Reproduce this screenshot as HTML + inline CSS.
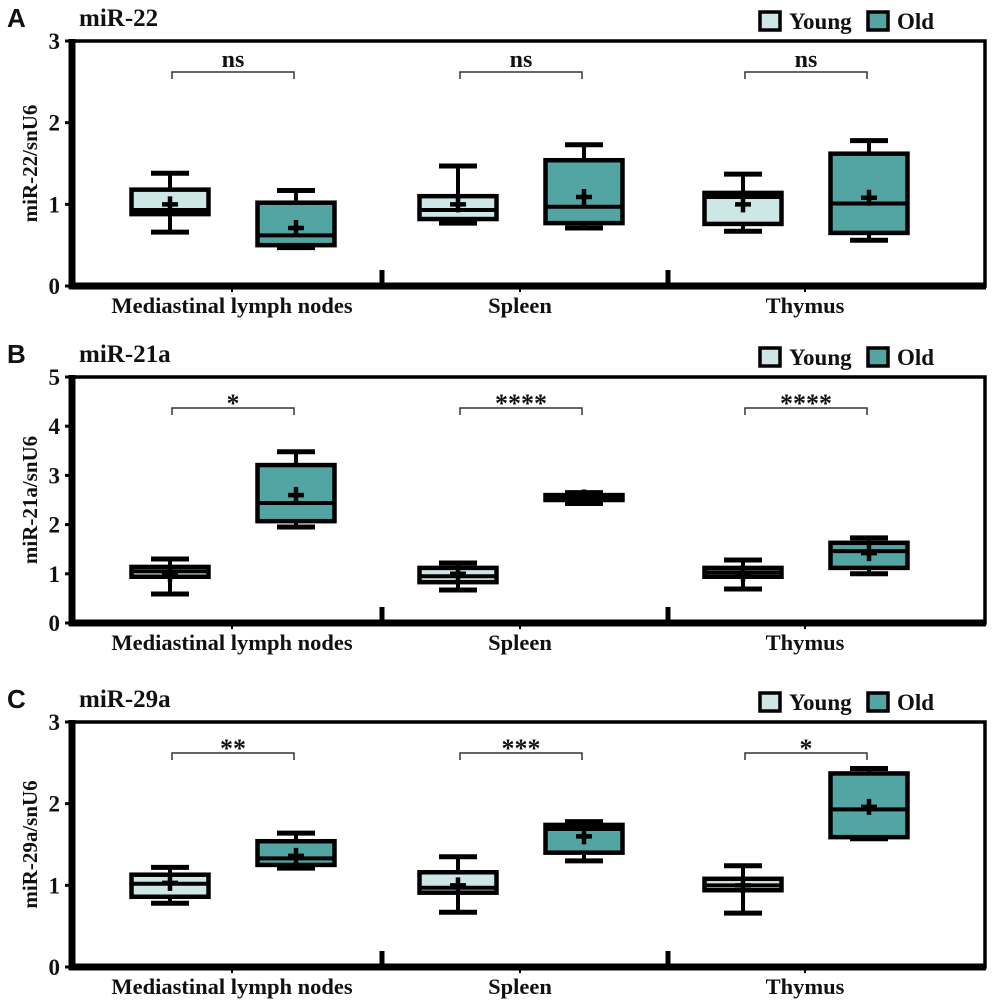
<!DOCTYPE html>
<html><head><meta charset="utf-8"><style>
body{margin:0;background:#fff}
svg{display:block}
text{font-family:"Liberation Serif",serif;font-weight:bold;fill:#111}
</style></head><body>
<svg id="chart" width="992" height="1007" viewBox="0 0 992 1007" xmlns="http://www.w3.org/2000/svg"></svg>
<script>
const categories = ["Mediastinal lymph nodes","Spleen","Thymus"];
const groups = ["Young","Old"];
const panelLetters = ["A","B","C"];
const panelTitles = ["miR-22","miR-21a","miR-29a"];
const yTitles = ["miR-22/snU6","miR-21a/snU6","miR-29a/snU6"];
const yMaxes = [3,5,3];
const signif = [["ns","ns","ns"],["*","****","****"],["**","***","*"]];
// [min,q1,median,q3,max,mean] per category, young then old
const statsA = [[[0.66,0.88,0.93,1.18,1.38,1.0],[0.47,0.5,0.62,1.02,1.17,0.71]],
                [[0.77,0.82,0.93,1.1,1.47,1.0],[0.71,0.77,0.97,1.54,1.73,1.09]],
                [[0.67,0.76,1.09,1.14,1.37,1.0],[0.56,0.65,1.01,1.62,1.78,1.08]]];
const statsB = [[[0.59,0.94,1.05,1.14,1.30,1.0],[1.95,2.07,2.44,3.21,3.48,2.6]],
                [[0.67,0.83,0.95,1.12,1.22,1.0],[2.43,2.5,2.55,2.6,2.65,2.55]],
                [[0.69,0.94,1.03,1.12,1.28,1.0],[1.0,1.12,1.46,1.63,1.73,1.42]]];
const statsC = [[[0.78,0.86,1.02,1.13,1.22,1.03],[1.21,1.25,1.33,1.54,1.64,1.36]],
                [[0.67,0.91,0.97,1.16,1.35,1.0],[1.30,1.40,1.69,1.74,1.78,1.6]],
                [[0.66,0.94,1.0,1.08,1.24,1.0],[1.57,1.59,1.93,2.37,2.43,1.96]]];
const allStats = [statsA,statsB,statsC];

const svg = document.getElementById('chart');
const NS = "http://www.w3.org/2000/svg";
function mk(tag, attrs, parent, txt){
  const e = document.createElementNS(NS, tag);
  for (const k in attrs) e.setAttribute(k, attrs[k]);
  if (txt !== undefined) e.textContent = txt;
  (parent||svg).appendChild(e); return e;
}
const layout = [{top:41,bot:286},{top:377,bot:623},{top:722,bot:967}];
const L = 72, R = 985;
const fills = ["#cde7e7","#52a5a2"];
const catX = [232,520,805];
const sepX = [382,668];
function xCat(ci){ return catX[ci]; }
function xC(ci, gi){ return xCat(ci) + (gi===0 ? -62 : 64); }

for (let p=0;p<3;p++){
  const {top,bot} = layout[p];
  const ymax = yMaxes[p];
  const y = v => bot - (bot-top)*v/ymax;
  const g = mk('g',{});
  
  
  let t = mk('text',{x:7,y:top-14,'font-size':26,style:'font-family:"Liberation Sans",sans-serif;font-weight:bold'},g,panelLetters[p]);
   
  t = mk('text',{x:79,y:top-15,'font-size':25},g,panelTitles[p]);
   
  const ly = top-29;
  [[760,0,789],[868,1,897]].forEach(([sx,gi,tx])=>{
    const r = mk('rect',{x:sx,y:ly,width:20,height:18,fill:fills[gi],stroke:'#000','stroke-width':3.5},g);
     
    const lt = mk('text',{x:tx,y:ly+17,'font-size':23},g,groups[gi]);
     
  });
  mk('rect',{x:L,y:top,width:R-L,height:bot-top,fill:'none',stroke:'#000','stroke-width':3.5},g);
  const ax = mk('line',{x1:L,y1:top-2,x2:L,y2:bot+3,stroke:'#000','stroke-width':7},g);
   
  const bx = mk('line',{x1:L-3,y1:bot,x2:R+1,y2:bot,stroke:'#000','stroke-width':7},g);
   
  for (let v=0; v<=ymax; v++){
    mk('line',{x1:L-7,y1:y(v),x2:L,y2:y(v),stroke:'#000','stroke-width':3},g);
    const tl = mk('text',{x:L-12,y:y(v)+8,'font-size':23,'text-anchor':'end'},g,String(v));
     
  }
  const yt = mk('text',{x:0,y:0,'font-size':21,'text-anchor':'middle',transform:`translate(37,${(top+bot)/2}) rotate(-90)`},g,yTitles[p]);
   
  sepX.forEach(sx=>{ mk('line',{x1:sx,y1:bot-16,x2:sx,y2:bot,stroke:'#000','stroke-width':5},g); });
  for (let ci=0;ci<3;ci++){
    const cx = xCat(ci);
    mk('line',{x1:cx,y1:bot,x2:cx,y2:bot+6,stroke:'#000','stroke-width':2},g);
    const cl = mk('text',{x:cx,y:bot+27,'font-size':22.5,'text-anchor':'middle'},g,categories[ci]);
     
    const x1 = xC(ci,0)+2, x2 = xC(ci,1)-2, by = top+31;
    const br = mk('path',{d:`M${x1},${by+7}V${by}H${x2}V${by+7}`,fill:'none',stroke:'#333','stroke-width':1.5},g);
     
    const isStar = signif[p][ci] !== 'ns';
    const st = mk('text',{x:(x1+x2)/2,y:isStar?by+4:by-5,'font-size':isStar?26:24,'text-anchor':'middle'},g,signif[p][ci]);
     
    for (let gi=0;gi<2;gi++){
      const s = allStats[p][ci][gi];
      const c = xC(ci,gi), w=77, cw=38;
      const bg = mk('g',{},g);
      
      
      mk('line',{x1:c,y1:y(s[4]),x2:c,y2:y(s[0]),stroke:'#000','stroke-width':4},bg);
      mk('line',{x1:c-cw/2,y1:y(s[4]),x2:c+cw/2,y2:y(s[4]),stroke:'#000','stroke-width':5},bg);
      mk('line',{x1:c-cw/2,y1:y(s[0]),x2:c+cw/2,y2:y(s[0]),stroke:'#000','stroke-width':5},bg);
      mk('rect',{x:c-w/2,y:y(s[3]),width:w,height:Math.max(1,y(s[1])-y(s[3])),fill:fills[gi],stroke:'#000','stroke-width':4.5},bg);
      mk('line',{x1:c-w/2,y1:y(s[2]),x2:c+w/2,y2:y(s[2]),stroke:'#000','stroke-width':4},bg);
      const my = y(s[5]);
      mk('path',{d:`M${c-8},${my}H${c+8}M${c},${my-8}V${my+8}`,stroke:'#000','stroke-width':4.5},bg);
    }
  }
}
</script>
</body></html>
